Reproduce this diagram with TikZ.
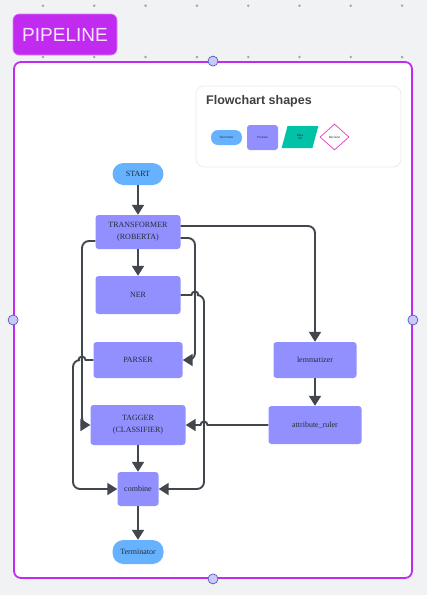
\documentclass[tikz,border=0pt]{standalone}
\usepackage{fontspec}
\setmainfont{Liberation Serif}
\newfontfamily\uisans{Liberation Sans}
\usepackage{tikz}
\usetikzlibrary{arrows.meta,shapes.geometric}

\definecolor{canvas}{HTML}{F1F2F4}
\definecolor{griddot}{HTML}{A3A5A8}
\definecolor{pipe}{HTML}{C12BF0}
\definecolor{proc}{HTML}{9290FF}
\definecolor{term}{HTML}{66B2FF}
\definecolor{io}{HTML}{00C2A6}
\definecolor{decide}{HTML}{E23CC8}
\definecolor{ink}{HTML}{262B36}
\definecolor{wire}{HTML}{42464D}
\definecolor{handlefill}{HTML}{C9CAF8}
\definecolor{handleline}{HTML}{5257C6}

\begin{document}
\begin{tikzpicture}[x=1pt, y=-1pt,
    stage/.style={fill=proc, rounded corners=3pt, inner sep=1pt, align=center, text=ink, font=\fontsize{8}{12}\selectfont},
    ends/.style={fill=term, rounded corners=11pt, inner sep=1pt, text=ink, font=\fontsize{8}{10}\selectfont},
    flow/.style={draw=wire, line width=1.9pt, -{Triangle[length=10pt, width=12pt]}, rounded corners=7pt},
    handle/.style={circle, fill=handlefill, draw=handleline, line width=0.7pt, minimum size=10pt, inner sep=0pt},
    tiny/.style={inner sep=0pt, align=center, text=ink, font=\uisans\fontsize{3}{3.5}\selectfont}]
    \fill [canvas] (0,0) rectangle (427,595);
    \foreach \row in {5.7,57}
      \foreach \i in {0,...,7}
        \fill [griddot] ({43+51.3*\i},\row) circle (1.4pt);
    \node [fill=pipe, draw=pipe!60, line width=0.6pt, rounded corners=6pt, minimum width=104pt, minimum height=41pt, text=white!88!pipe, font=\uisans\fontsize{19}{22}\selectfont] (tag) at (65,34.5) {PIPELINE};
    \node [draw=pipe, fill=white, line width=1.8pt, rounded corners=7pt, minimum width=398pt, minimum height=516pt] (frame) at (213,320) {};
    \node [fill=white, draw=black!7, line width=0.8pt, rounded corners=8pt, minimum width=205pt, minimum height=81pt] (legend) at (298.5,126.5) {};
    \node [anchor=west, inner sep=0pt, text=black!75, font=\uisans\bfseries\fontsize{12.5}{14}\selectfont] (legtitle) at (206,101) {Flowchart shapes};
    \node [fill=term, rounded corners=7pt, minimum width=31pt, minimum height=15pt, tiny] (legterm) at (226.5,137.5) {Terminator};
    \node [fill=proc, rounded corners=3pt, minimum width=31pt, minimum height=25pt, tiny] (legproc) at (262.5,137.5) {Process};
    \node [trapezium, trapezium left angle=75, trapezium right angle=105, fill=io, minimum width=24pt, minimum height=22pt, tiny] (legio) at (300,137) {Data\\I/O};
    \node [diamond, draw=decide, fill=white, line width=0.7pt, minimum width=29pt, minimum height=26pt, tiny] (legdec) at (334.5,137) {Decision};

    \node [ends, minimum width=51pt, minimum height=22pt] (start) at (138,174) {START};
    \node [stage, minimum width=85pt, minimum height=34pt] (trans) at (138,232) {TRANSFORMER\\(ROBERTA)};
    \node [stage, minimum width=85pt, minimum height=38pt] (ner) at (138,295) {NER};
    \node [stage, minimum width=89pt, minimum height=36pt] (parser) at (138,360) {PARSER};
    \node [stage, minimum width=95pt, minimum height=40pt] (tagger) at (138,425) {TAGGER\\(CLASSIFIER)};
    \node [stage, minimum width=41pt, minimum height=34pt] (combine) at (138,489) {combine};
    \node [ends, minimum width=51pt, minimum height=24pt] (stop) at (138,552) {Terminator};
    \node [stage, minimum width=83pt, minimum height=36pt] (lemma) at (315,360) {lemmatizer};
    \node [stage, minimum width=93pt, minimum height=38pt] (attr) at (315,425) {attribute\_ruler};

    \draw [flow] (start) -- (trans);
    \draw [flow] (trans) -- (ner);
    \draw [flow] ([yshift=6pt]trans.east) -| (lemma);
    \draw [flow] (lemma) -- (attr);
    \draw [flow] (attr) [sharp corners] -- (207.5,425) arc [start angle=0, end angle=180, radius=3.5pt] -- (tagger);
    \draw [flow] ([yshift=-9pt]trans.west) -- (82,241) -- (82,425) -- (tagger.west);
    \draw [flow] ([yshift=-6pt]trans.east) -- (195,238) -- (195,360) -- (parser.east);
    \draw [flow] (ner.east) [sharp corners] -- (191.5,295) arc [start angle=180, end angle=0, radius=3.5pt] -- (198.5,295) [rounded corners=7pt] -- (204,295) -- (204,489) -- (combine.east);
    \draw [flow] (parser.west) [sharp corners] -- (85.5,360) arc [start angle=0, end angle=180, radius=3.5pt] -- (78.5,360) [rounded corners=7pt] -- (73,360) -- (73,489) -- (combine.west);
    \draw [flow] (tagger) -- (combine);
    \draw [flow] (combine) -- (stop);

    \node [handle] (hn) at (frame.north) {};
    \node [handle] (hs) at (frame.south) {};
    \node [handle] (hw) at (frame.west) {};
    \node [handle] (he) at (frame.east) {};
\end{tikzpicture}
\end{document}
